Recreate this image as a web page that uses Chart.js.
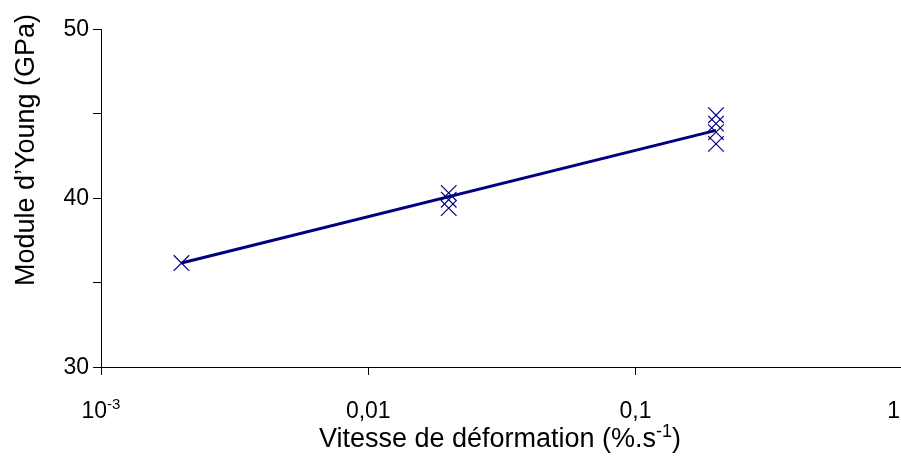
<!DOCTYPE html>
<html>
<head>
<meta charset="utf-8">
<script src="https://cdn.jsdelivr.net/npm/chart.js@4.4.1/dist/chart.umd.min.js"></script>
<style>
  html, body { margin: 0; padding: 0; background: #fff; }
  #wrap { width: 901px; height: 462px; overflow: hidden; position: relative; }
  canvas { display: block; }
</style>
</head>
<body>
<div id="wrap"><canvas id="chartYoung" width="915" height="462"></canvas></div>
<script>
// measured points (strain rate in %/s, modulus in GPa)
const rates = [0.002, 0.02, 0.02, 0.02, 0.2, 0.2, 0.2, 0.2];
const modulus = [36.15, 40.3, 39.9, 39.4, 44.9, 44.4, 43.9, 43.2];

// fitted trend line
const fitRates = [0.002, 0.2];
const fitModulus = [36.15, 44.0];

// axis ticks
const xTickValues = [0.001, 0.01, 0.1, 1];
const xTickLabels = [["10", "-3"], ["0,01", ""], ["0,1", ""], ["1", ""]];
const yTickLabels = [30, 40, 50];

const yTitle = "Module d\u2019Young (GPa)";
const xTitle = ["Vitesse de déformation (%.s", "-1", ")"];

const FONT = '"Liberation Sans", Arial, sans-serif';

function textWithSup(ctx, parts, size, x, y, align) {
  // parts: [base, sup, tail]
  const supSize = Math.round(size * 0.65);
  ctx.font = size + "px " + FONT;
  const w0 = ctx.measureText(parts[0]).width;
  const w2 = parts[2] ? ctx.measureText(parts[2]).width : 0;
  ctx.font = supSize + "px " + FONT;
  const w1 = parts[1] ? ctx.measureText(parts[1]).width : 0;
  const total = w0 + w1 + w2;
  let sx = x;
  if (align === "center") sx = x - total / 2;
  else if (align === "right") sx = x - total;
  ctx.textAlign = "left";
  ctx.textBaseline = "alphabetic";
  ctx.font = size + "px " + FONT;
  ctx.fillText(parts[0], sx, y);
  if (parts[1]) {
    ctx.font = supSize + "px " + FONT;
    ctx.fillText(parts[1], sx + w0, y - size * 0.38);
  }
  if (parts[2]) {
    ctx.font = size + "px " + FONT;
    ctx.fillText(parts[2], sx + w0 + w1, y);
  }
  return total;
}

const labelsPlugin = {
  id: "labels",
  afterDraw(chart) {
    const ctx = chart.ctx;
    const xs = chart.scales.x;
    const ys = chart.scales.y;
    ctx.save();
    ctx.fillStyle = "#000";

    // y tick labels
    ctx.font = "23px " + FONT;
    ctx.textAlign = "right";
    ctx.textBaseline = "middle";
    yTickLabels.forEach((v) => {
      ctx.fillText(String(v), 89, ys.getPixelForValue(v) + 1);
    });

    // x tick labels
    xTickValues.forEach((v, i) => {
      const px = xs.getPixelForValue(v);
      ctx.font = "23px " + FONT;
      const parts = [xTickLabels[i][0], xTickLabels[i][1], ""];
      let w = ctx.measureText(parts[0]).width;
      if (parts[1]) {
        ctx.font = Math.round(23 * 0.65) + "px " + FONT;
        w += ctx.measureText(parts[1]).width;
      }
      const cx = Math.min(px, 900 - w / 2);
      textWithSup(ctx, parts, 23, cx, 418, "center");
    });

    // x title
    textWithSup(ctx, xTitle, 27, 500, 447, "center");

    // y title
    ctx.save();
    ctx.translate(27, 150);
    ctx.rotate(-Math.PI / 2);
    ctx.font = "27px " + FONT;
    ctx.textAlign = "center";
    ctx.textBaseline = "middle";
    ctx.fillText(yTitle, 0, 0);
    ctx.restore();

    ctx.restore();
  },
};

const data = {
  datasets: [
    {
      label: "fit",
      data: fitRates.map((r, i) => ({ x: r, y: fitModulus[i] })),
      showLine: true,
      borderColor: "#000080",
      borderWidth: 3,
      pointRadius: 0,
      order: 2,
    },
    {
      label: "Module",
      data: rates.map((r, i) => ({ x: r, y: modulus[i] })),
      showLine: false,
      pointStyle: "crossRot",
      pointRadius: 11,
      borderColor: "#000080",
      borderWidth: 1.2,
      order: 1,
    },
  ],
};

const config = {
  type: "scatter",
  data,
  options: {
    responsive: false,
    animation: false,
    devicePixelRatio: 1,
    layout: { padding: { left: 0, right: 5, top: 29, bottom: 0 } },
    plugins: { legend: { display: false }, tooltip: { enabled: false } },
    scales: {
      x: {
        type: "logarithmic",
        min: 0.001,
        max: 1,
        afterBuildTicks: (scale) => {
          scale.ticks = xTickValues.map((v) => ({ value: v }));
        },
        afterFit: (scale) => {
          scale.height = 95;
        },
        ticks: { display: false },
        grid: {
          drawOnChartArea: false,
          drawTicks: true,
          tickLength: 8,
          color: "#000",
          lineWidth: 1,
        },
        border: { display: true, color: "#000", width: 1 },
      },
      y: {
        min: 30,
        max: 50,
        ticks: { display: false, stepSize: 5 },
        afterFit: (scale) => {
          scale.width = 101;
        },
        grid: {
          drawOnChartArea: false,
          drawTicks: true,
          tickLength: 8,
          color: "#000",
          lineWidth: 1,
        },
        border: { display: true, color: "#000", width: 1 },
      },
    },
  },
  plugins: [labelsPlugin],
};

const chartYoung = new Chart(document.getElementById("chartYoung"), config);
</script>
</body>
</html>
